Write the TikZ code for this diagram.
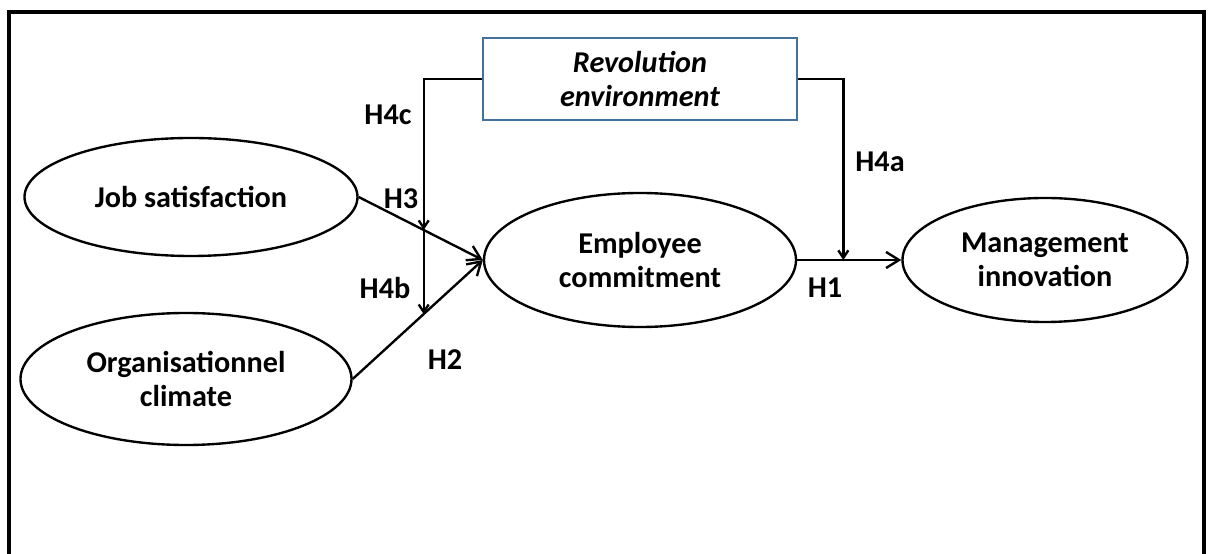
\documentclass[tikz,border=0pt]{standalone}
\usepackage{fontspec}
\setmainfont{Carlito}
\usetikzlibrary{shapes.geometric,arrows.meta,calc}
\definecolor{boxblue}{RGB}{65,113,156}
\begin{document}
\begin{tikzpicture}[x=0.2mm,y=-0.2mm,
    latent/.style={ellipse, draw, line width=1.35pt, inner sep=0pt, align=center,
      font=\fontsize{17.2}{19.4}\selectfont\bfseries},
    modbox/.style={rectangle, draw=boxblue, line width=1.3pt, inner sep=0pt, align=center,
      font=\fontsize{17.2}{19.4}\selectfont\bfseries\itshape},
    hyp/.style={font=\fontsize{17.2}{19.4}\selectfont\bfseries},
    hpath/.style={line width=1.35pt, -{Straight Barb[length=2.6mm,width=3.2mm]}},
    mpath/.style={line width=1.35pt, -{Straight Barb[length=1.5mm,width=2mm]}}]
        \useasboundingbox (0,0) rectangle (1211,554);
        \draw[line width=2pt] (9,570) -- (9,12) -- (1204,12) -- (1204,570);
        \node[modbox, minimum width=62.8mm, minimum height=16.4mm] (rev) at (640,79) {Revolution\\environment};
        \node[latent, minimum width=66.6mm, minimum height=23.6mm] (job) at (191,197) {Job satisfaction};
        \node[latent, minimum width=66.2mm, minimum height=26.4mm] (org) at (186,379) {Organisationnel\\climate};
        \node[latent, minimum width=62.4mm, minimum height=26.8mm] (emp) at (640,260) {Employee\\commitment};
        \node[latent, minimum width=57mm, minimum height=24.8mm] (inno) at (1045,260) {Management\\innovation};
        \coordinate (h3x) at ($(job.east)!0.524!(emp.west)$);
        \coordinate (h2x) at ($(org.east)!0.545!(emp.west)$);
        \coordinate (h1x) at ($(emp.east)!0.443!(inno.west)$);
        \draw[hpath] (job.east) -- (emp.west);
        \draw[hpath] (org.east) -- (emp.west);
        \draw[hpath] (emp.east) -- (inno.west);
        \draw[mpath] (rev.west) -| (h3x);
        \draw[mpath] (h3x) -- (h3x |- h2x);
        \draw[mpath] (rev.east) -| (h1x);
        \node[hyp] (h4c) at (388,115) {H4c};
        \node[hyp] (h3) at (401,199) {H3};
        \node[hyp] (h4b) at (385,288) {H4b};
        \node[hyp] (h2) at (445,360) {H2};
        \node[hyp] (h4a) at (880,162) {H4a};
        \node[hyp] (h1) at (825,288) {H1};
\end{tikzpicture}
\end{document}
